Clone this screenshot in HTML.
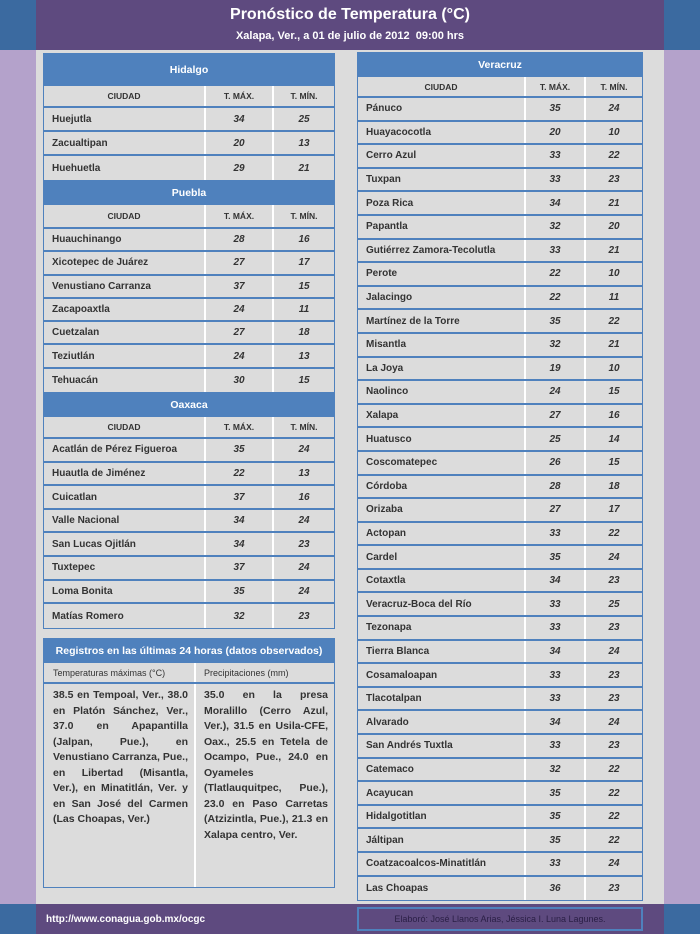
<!DOCTYPE html>
<html><head><meta charset="utf-8"><style>
*{margin:0;padding:0;box-sizing:border-box}
body{width:700px;height:934px;position:relative;overflow:hidden;background:#b4a2cb;font-family:"Liberation Sans",sans-serif;font-weight:bold;color:#333}
.abs{position:absolute}
.t{position:absolute;background:#4f81bd}
.r{display:flex;border-bottom:2px solid #4f81bd;background:#dcdcdc;font-size:10px;align-items:center}
.r div{height:100%;display:flex;align-items:center;border-right:2px solid #fff}
.r div:last-child{border-right:none}
.r .c{padding-left:8px}
.r .n{justify-content:center;font-style:italic}
.h{background:#4f81bd;color:#fff;font-size:10.5px;display:flex;align-items:center;justify-content:center}
.ch{font-size:8.5px;font-weight:bold}
.ch div{justify-content:center}
</style></head><body>
<div class="abs" style="left:0;top:0;width:36px;height:50px;background:#3b6aa0"></div>
<div class="abs" style="left:664px;top:0;width:36px;height:50px;background:#3b6aa0"></div>
<div class="abs" style="left:0;top:904px;width:36px;height:30px;background:#3b6aa0"></div>
<div class="abs" style="left:664px;top:904px;width:36px;height:30px;background:#3b6aa0"></div>
<div class="abs" style="left:36px;top:0;width:628px;height:50px;background:#5e4a7f;color:#fff;text-align:center">
<div style="font-size:16px;margin-top:6px">Pronóstico de Temperatura (°C)</div>
<div style="font-size:11px;margin-top:6px">Xalapa, Ver., a 01 de julio de 2012&nbsp; 09:00 hrs</div></div>
<div class="abs" style="left:36px;top:50px;width:628px;height:854px;background:#dcdcdc"></div>
<div class="abs" style="left:36px;top:904px;width:628px;height:30px;background:#5e4a7f"></div>
<div class="abs" style="left:46px;top:914px;color:#fff;font-size:10px">http://www.conagua.gob.mx/ocgc</div>
<div class="abs" style="left:357px;top:907px;width:286px;height:24px;border:2px solid #4f81bd;color:#2a1f45;font-weight:normal;font-size:9px;text-align:center;line-height:20px">Elaboró: José Llanos Arias, Jéssica I. Luna Lagunes.</div>

<!-- left table -->
<div class="t" style="left:43px;top:53px;width:292px;border:1px solid #4f81bd">
<div class="h" style="height:32px">Hidalgo</div>
<div class="r ch" style="height:22px"><div style="width:162px">CIUDAD</div><div style="width:68px">T. MÁX.</div><div style="width:60px">T. MÍN.</div></div>
<div class="r" style="height:24px"><div class="c" style="width:162px">Huejutla</div><div class="n" style="width:68px">34</div><div class="n" style="width:60px">25</div></div>
<div class="r" style="height:24px"><div class="c" style="width:162px">Zacualtipan</div><div class="n" style="width:68px">20</div><div class="n" style="width:60px">13</div></div>
<div class="r" style="height:24px;border-bottom:none"><div class="c" style="width:162px">Huehuetla</div><div class="n" style="width:68px">29</div><div class="n" style="width:60px">21</div></div>
<div class="h" style="height:25px">Puebla</div>
<div class="r ch" style="height:24px"><div style="width:162px">CIUDAD</div><div style="width:68px">T. MÁX.</div><div style="width:60px">T. MÍN.</div></div>
<div class="r" style="height:23.3px"><div class="c" style="width:162px">Huauchinango</div><div class="n" style="width:68px">28</div><div class="n" style="width:60px">16</div></div>
<div class="r" style="height:23.3px"><div class="c" style="width:162px">Xicotepec de Juárez</div><div class="n" style="width:68px">27</div><div class="n" style="width:60px">17</div></div>
<div class="r" style="height:23.3px"><div class="c" style="width:162px">Venustiano Carranza</div><div class="n" style="width:68px">37</div><div class="n" style="width:60px">15</div></div>
<div class="r" style="height:23.3px"><div class="c" style="width:162px">Zacapoaxtla</div><div class="n" style="width:68px">24</div><div class="n" style="width:60px">11</div></div>
<div class="r" style="height:23.3px"><div class="c" style="width:162px">Cuetzalan</div><div class="n" style="width:68px">27</div><div class="n" style="width:60px">18</div></div>
<div class="r" style="height:23.3px"><div class="c" style="width:162px">Teziutlán</div><div class="n" style="width:68px">24</div><div class="n" style="width:60px">13</div></div>
<div class="r" style="height:23.3px;border-bottom:none"><div class="c" style="width:162px">Tehuacán</div><div class="n" style="width:68px">30</div><div class="n" style="width:60px">15</div></div>
<div class="h" style="height:25px">Oaxaca</div>
<div class="r ch" style="height:22px"><div style="width:162px">CIUDAD</div><div style="width:68px">T. MÁX.</div><div style="width:60px">T. MÍN.</div></div>
<div class="r" style="height:23.6px"><div class="c" style="width:162px">Acatlán de Pérez Figueroa</div><div class="n" style="width:68px">35</div><div class="n" style="width:60px">24</div></div>
<div class="r" style="height:23.6px"><div class="c" style="width:162px">Huautla de Jiménez</div><div class="n" style="width:68px">22</div><div class="n" style="width:60px">13</div></div>
<div class="r" style="height:23.6px"><div class="c" style="width:162px">Cuicatlan</div><div class="n" style="width:68px">37</div><div class="n" style="width:60px">16</div></div>
<div class="r" style="height:23.6px"><div class="c" style="width:162px">Valle Nacional</div><div class="n" style="width:68px">34</div><div class="n" style="width:60px">24</div></div>
<div class="r" style="height:23.6px"><div class="c" style="width:162px">San Lucas Ojitlán</div><div class="n" style="width:68px">34</div><div class="n" style="width:60px">23</div></div>
<div class="r" style="height:23.6px"><div class="c" style="width:162px">Tuxtepec</div><div class="n" style="width:68px">37</div><div class="n" style="width:60px">24</div></div>
<div class="r" style="height:23.6px"><div class="c" style="width:162px">Loma Bonita</div><div class="n" style="width:68px">35</div><div class="n" style="width:60px">24</div></div>
<div class="r" style="height:23.6px;border-bottom:none"><div class="c" style="width:162px">Matías Romero</div><div class="n" style="width:68px">32</div><div class="n" style="width:60px">23</div></div>
</div>

<!-- registros -->
<div class="t" style="left:43px;top:638px;width:292px;height:250px;border:1px solid #4f81bd">
<div class="h" style="height:24px;font-size:10.5px">Registros en las últimas 24 horas (datos observados)</div>
<div class="r" style="height:21px;font-weight:normal;font-size:9px"><div class="c" style="width:152px;padding-left:9px">Temperaturas máximas (°C)</div><div class="c" style="width:138px">Precipitaciones (mm)</div></div>
<div style="display:flex;height:203px;background:#dcdcdc;font-size:10.5px;line-height:15.5px">
<div style="width:152px;border-right:2px solid #fff;padding:4px 6px 0 9px;text-align:justify">38.5 en Tempoal, Ver., 38.0 en Platón Sánchez, Ver., 37.0 en Apapantilla (Jalpan, Pue.), en Venustiano Carranza, Pue., en Libertad (Misantla, Ver.), en Minatitlán, Ver. y en San José del Carmen (Las Choapas, Ver.)</div>
<div style="width:138px;padding:4px 6px 0 8px;text-align:justify">35.0 en la presa Moralillo (Cerro Azul, Ver.), 31.5 en Usila-CFE, Oax., 25.5 en Tetela de Ocampo, Pue., 24.0 en Oyameles (Tlatlauquitpec, Pue.), 23.0 en Paso Carretas (Atzizintla, Pue.), 21.3 en Xalapa centro, Ver.</div>
</div></div>

<!-- right table -->
<div class="t" style="left:357px;top:52px;width:286px;border:1px solid #4f81bd">
<div class="h" style="height:24px">Veracruz</div>
<div class="r ch" style="height:21px"><div style="width:168px">CIUDAD</div><div style="width:60px">T. MÁX.</div><div style="width:56px">T. MÍN.</div></div>
<div class="r" style="height:23.6px"><div class="c" style="width:168px">Pánuco</div><div class="n" style="width:60px">35</div><div class="n" style="width:56px">24</div></div>
<div class="r" style="height:23.6px"><div class="c" style="width:168px">Huayacocotla</div><div class="n" style="width:60px">20</div><div class="n" style="width:56px">10</div></div>
<div class="r" style="height:23.6px"><div class="c" style="width:168px">Cerro Azul</div><div class="n" style="width:60px">33</div><div class="n" style="width:56px">22</div></div>
<div class="r" style="height:23.6px"><div class="c" style="width:168px">Tuxpan</div><div class="n" style="width:60px">33</div><div class="n" style="width:56px">23</div></div>
<div class="r" style="height:23.6px"><div class="c" style="width:168px">Poza Rica</div><div class="n" style="width:60px">34</div><div class="n" style="width:56px">21</div></div>
<div class="r" style="height:23.6px"><div class="c" style="width:168px">Papantla</div><div class="n" style="width:60px">32</div><div class="n" style="width:56px">20</div></div>
<div class="r" style="height:23.6px"><div class="c" style="width:168px">Gutiérrez Zamora-Tecolutla</div><div class="n" style="width:60px">33</div><div class="n" style="width:56px">21</div></div>
<div class="r" style="height:23.6px"><div class="c" style="width:168px">Perote</div><div class="n" style="width:60px">22</div><div class="n" style="width:56px">10</div></div>
<div class="r" style="height:23.6px"><div class="c" style="width:168px">Jalacingo</div><div class="n" style="width:60px">22</div><div class="n" style="width:56px">11</div></div>
<div class="r" style="height:23.6px"><div class="c" style="width:168px">Martínez de la Torre</div><div class="n" style="width:60px">35</div><div class="n" style="width:56px">22</div></div>
<div class="r" style="height:23.6px"><div class="c" style="width:168px">Misantla</div><div class="n" style="width:60px">32</div><div class="n" style="width:56px">21</div></div>
<div class="r" style="height:23.6px"><div class="c" style="width:168px">La Joya</div><div class="n" style="width:60px">19</div><div class="n" style="width:56px">10</div></div>
<div class="r" style="height:23.6px"><div class="c" style="width:168px">Naolinco</div><div class="n" style="width:60px">24</div><div class="n" style="width:56px">15</div></div>
<div class="r" style="height:23.6px"><div class="c" style="width:168px">Xalapa</div><div class="n" style="width:60px">27</div><div class="n" style="width:56px">16</div></div>
<div class="r" style="height:23.6px"><div class="c" style="width:168px">Huatusco</div><div class="n" style="width:60px">25</div><div class="n" style="width:56px">14</div></div>
<div class="r" style="height:23.6px"><div class="c" style="width:168px">Coscomatepec</div><div class="n" style="width:60px">26</div><div class="n" style="width:56px">15</div></div>
<div class="r" style="height:23.6px"><div class="c" style="width:168px">Córdoba</div><div class="n" style="width:60px">28</div><div class="n" style="width:56px">18</div></div>
<div class="r" style="height:23.6px"><div class="c" style="width:168px">Orizaba</div><div class="n" style="width:60px">27</div><div class="n" style="width:56px">17</div></div>
<div class="r" style="height:23.6px"><div class="c" style="width:168px">Actopan</div><div class="n" style="width:60px">33</div><div class="n" style="width:56px">22</div></div>
<div class="r" style="height:23.6px"><div class="c" style="width:168px">Cardel</div><div class="n" style="width:60px">35</div><div class="n" style="width:56px">24</div></div>
<div class="r" style="height:23.6px"><div class="c" style="width:168px">Cotaxtla</div><div class="n" style="width:60px">34</div><div class="n" style="width:56px">23</div></div>
<div class="r" style="height:23.6px"><div class="c" style="width:168px">Veracruz-Boca del Río</div><div class="n" style="width:60px">33</div><div class="n" style="width:56px">25</div></div>
<div class="r" style="height:23.6px"><div class="c" style="width:168px">Tezonapa</div><div class="n" style="width:60px">33</div><div class="n" style="width:56px">23</div></div>
<div class="r" style="height:23.6px"><div class="c" style="width:168px">Tierra Blanca</div><div class="n" style="width:60px">34</div><div class="n" style="width:56px">24</div></div>
<div class="r" style="height:23.6px"><div class="c" style="width:168px">Cosamaloapan</div><div class="n" style="width:60px">33</div><div class="n" style="width:56px">23</div></div>
<div class="r" style="height:23.6px"><div class="c" style="width:168px">Tlacotalpan</div><div class="n" style="width:60px">33</div><div class="n" style="width:56px">23</div></div>
<div class="r" style="height:23.6px"><div class="c" style="width:168px">Alvarado</div><div class="n" style="width:60px">34</div><div class="n" style="width:56px">24</div></div>
<div class="r" style="height:23.6px"><div class="c" style="width:168px">San Andrés Tuxtla</div><div class="n" style="width:60px">33</div><div class="n" style="width:56px">23</div></div>
<div class="r" style="height:23.6px"><div class="c" style="width:168px">Catemaco</div><div class="n" style="width:60px">32</div><div class="n" style="width:56px">22</div></div>
<div class="r" style="height:23.6px"><div class="c" style="width:168px">Acayucan</div><div class="n" style="width:60px">35</div><div class="n" style="width:56px">22</div></div>
<div class="r" style="height:23.6px"><div class="c" style="width:168px">Hidalgotitlan</div><div class="n" style="width:60px">35</div><div class="n" style="width:56px">22</div></div>
<div class="r" style="height:23.6px"><div class="c" style="width:168px">Jáltipan</div><div class="n" style="width:60px">35</div><div class="n" style="width:56px">22</div></div>
<div class="r" style="height:23.6px"><div class="c" style="width:168px">Coatzacoalcos-Minatitlán</div><div class="n" style="width:60px">33</div><div class="n" style="width:56px">24</div></div>
<div class="r" style="height:23.6px;border-bottom:none"><div class="c" style="width:168px">Las Choapas</div><div class="n" style="width:60px">36</div><div class="n" style="width:56px">23</div></div>
</div>
</body></html>
